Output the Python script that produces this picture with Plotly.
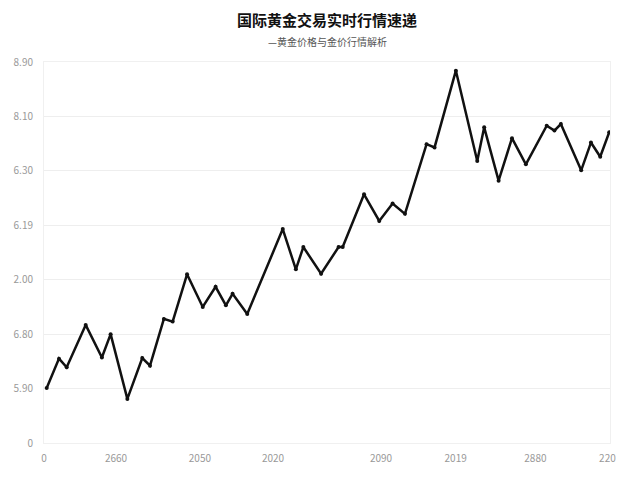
import plotly.graph_objects as go

# Data
x_vals = [1.05, 5.83, 8.82, 16.2, 22.5, 25.9, 32.4, 38.2, 41.2, 46.6, 50.0, 55.6,
          61.7, 66.7, 70.7, 73.3, 79.0, 92.8, 97.9, 100.8, 107.7, 114.5, 116.1,
          124.4, 130.3, 135.5, 140.3, 148.7, 151.8, 160.1, 168.4, 171.1, 176.7,
          181.9, 187.3, 195.4, 198.4, 200.9, 208.8, 212.6, 216.2, 219.7]
y_vals = [1.01, 1.55, 1.39, 2.17, 1.57, 2.00, 0.81, 1.56, 1.42, 2.28, 2.23, 3.10,
          2.50, 2.87, 2.53, 2.74, 2.37, 3.93, 3.19, 3.60, 3.11, 3.60, 3.60,
          4.57, 4.08, 4.40, 4.21, 5.49, 5.43, 6.84, 5.18, 5.80, 4.82,
          5.60, 5.12, 5.83, 5.74, 5.86, 5.01, 5.52, 5.26, 5.71]

x_tick_vals = [0, 28, 60.6, 89, 131, 160, 191, 219]
x_tick_text = ["0", "2660", "2050", "2020", "2090", "2019", "2880", "220"]
y_tick_vals = [0, 1, 2, 3, 4, 5, 6, 7]
y_tick_text = ["0", "5.90", "6.80", "2.00", "6.19", "6.30", "8.10", "8.90"]

title_text = "<b>国际黄金交易实时行情速递</b>"
subtitle_text = "—黄金价格与金价行情解析"

fig = go.Figure()
fig.add_trace(go.Scatter(
    x=x_vals, y=y_vals, mode="lines+markers",
    line=dict(color="#111111", width=2.5),
    marker=dict(color="#111111", size=4),
    hoverinfo="skip", showlegend=False,
))

# page body has an 8px margin, compensate so the plot area lands at 44..610 x 62..443
top_m, bot_m = 54, 45
plot_h = 480 - top_m - bot_m

fig.update_layout(
    width=640, height=480,
    paper_bgcolor="white", plot_bgcolor="white",
    margin=dict(l=36, r=38, t=top_m, b=bot_m),
    font=dict(family="Noto Sans CJK SC, DejaVu Sans", color="#999999", size=10),
    annotations=[
        dict(text=title_text, x=0.5, y=1 + (62 - 20) / plot_h, xref="paper", yref="paper",
             xanchor="center", yanchor="middle", showarrow=False,
             font=dict(size=15, color="#111111", family="Noto Sans CJK SC")),
        dict(text=subtitle_text, x=0.5, y=1 + (62 - 41) / plot_h, xref="paper", yref="paper",
             xanchor="center", yanchor="middle", showarrow=False,
             font=dict(size=10, color="#555555", family="Noto Sans CJK SC")),
    ],
)

fig.update_xaxes(
    range=[0, 220], tickvals=x_tick_vals, ticktext=x_tick_text,
    showgrid=False, zeroline=False, showline=True, linecolor="#f0f0f0",
    mirror=True, ticks="", automargin=False, ticklabelstandoff=6,
    tickfont=dict(size=10, color="#999999"),
)
fig.update_yaxes(
    range=[0, 7], tickvals=y_tick_vals, ticktext=y_tick_text,
    showgrid=True, gridcolor="#eeeeee", gridwidth=1, zeroline=False,
    showline=True, linecolor="#f0f0f0", mirror=True, ticks="", automargin=False,
    ticklabelstandoff=8,
    tickfont=dict(size=10, color="#999999"),
)

fig.write_html("out.html")
